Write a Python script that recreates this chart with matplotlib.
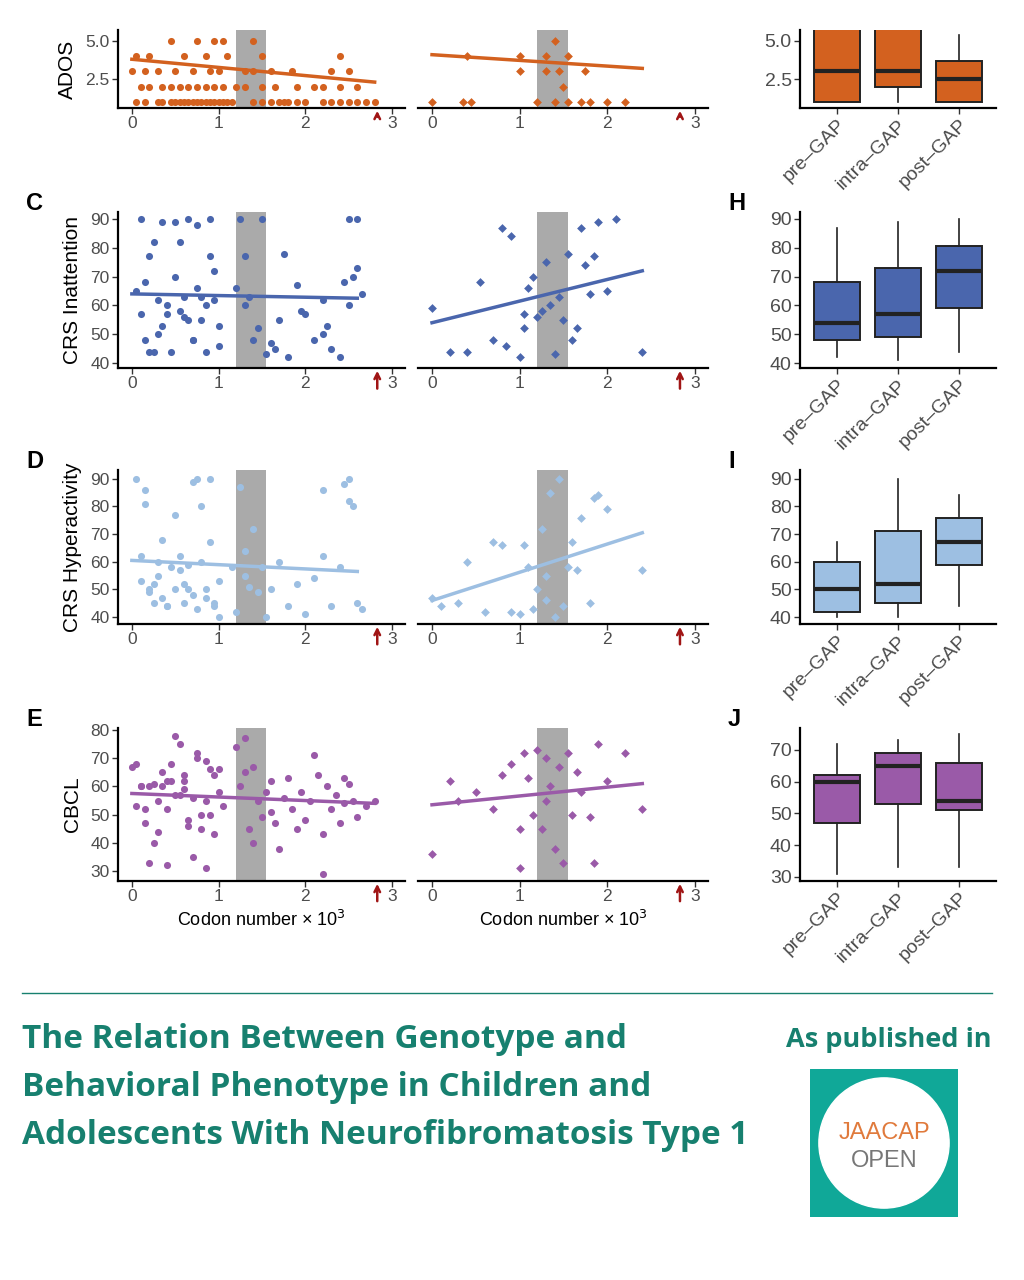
import numpy as np
import matplotlib
matplotlib.use("Agg")
import matplotlib.pyplot as plt
from matplotlib.patches import Rectangle, Circle

W, H = 1024, 1280

# ---- data ----
groups = ["pre\u2013GAP", "intra\u2013GAP", "post\u2013GAP"]

ados_left_x = [0.05, 0.15, 0.3, 0.35, 0.45, 0.5, 0.55, 0.6, 0.65, 0.7, 0.75, 0.8, 0.85, 0.9, 0.95, 1.0, 1.05,
               1.1, 1.15, 1.4, 1.5, 1.6, 1.7, 1.75, 1.8, 1.9, 2.0, 2.2, 2.3, 2.4, 2.5, 2.6, 2.7, 2.8,
               0.1, 0.2, 0.35, 0.45, 0.55, 0.65, 0.75, 0.85, 0.95, 1.05, 1.2, 1.3, 1.5, 1.65, 1.9, 2.1, 2.2,
               2.4, 2.6, 0.0, 0.15, 0.3, 0.5, 0.7, 0.9, 1.0, 1.3, 1.4, 1.6, 1.85, 2.3, 2.5,
               0.05, 0.2, 0.6, 0.85, 1.1, 1.5, 2.4, 0.45, 0.75, 0.95, 1.05, 1.4]
ados_left_y = [1] * 34 + [2] * 19 + [3] * 13 + [4] * 7 + [5] * 5
ados_mid_x = [0.0, 0.35, 0.45, 1.2, 1.4, 1.55, 1.7, 1.8, 2.0, 2.2, 1.5, 1.0, 1.3, 1.45, 1.75, 0.4, 1.0, 1.3,
              1.55, 1.4]
ados_mid_y = [1] * 10 + [2] + [3] * 4 + [4] * 4 + [5]

crs_in_left_x = [0.05, 0.1, 0.15, 0.2, 0.25, 0.3, 0.35, 0.4, 0.45, 0.5, 0.55, 0.6, 0.65, 0.7, 0.75, 0.8, 0.85,
                 0.9, 0.95, 1.0, 0.1, 0.2, 0.3, 0.4, 0.5, 0.6, 0.7, 0.8, 0.9, 1.0, 0.15, 0.35, 0.55, 0.75,
                 0.95, 1.25, 1.3, 1.35, 1.4, 1.45, 1.5, 1.2, 1.3, 1.55, 1.65, 1.7, 1.75, 1.8, 1.9, 2.0, 2.1,
                 2.2, 2.3, 2.4, 2.5, 2.55, 2.6, 2.65, 2.5, 2.6, 2.2, 1.6, 1.95, 2.25, 2.45, 0.25, 0.65, 0.85]
crs_in_left_y = [65, 90, 48, 77, 44, 62, 89, 57, 44, 89, 58, 63, 90, 48, 88, 55, 44, 90, 62, 53, 57, 44, 50,
                 60, 70, 56, 48, 63, 77, 46, 68, 53, 82, 66, 72, 90, 77, 63, 48, 52, 90, 66, 60, 43, 45, 55,
                 78, 42, 67, 57, 48, 62, 45, 42, 60, 70, 73, 64, 90, 90, 50, 47, 58, 53, 68, 82, 55, 60]
crs_in_mid_x = [0.0, 0.2, 0.4, 0.55, 0.7, 0.8, 0.9, 1.0, 1.05, 1.1, 1.2, 1.25, 1.3, 1.35, 1.4, 1.45, 1.5, 1.55,
                1.6, 1.65, 1.7, 1.75, 1.8, 1.85, 1.9, 2.0, 2.1, 2.4, 1.15, 1.05, 0.85]
crs_in_mid_y = [59, 44, 44, 68, 48, 87, 84, 42, 52, 66, 56, 58, 75, 60, 43, 63, 55, 78, 48, 52, 87, 74, 64,
                77, 89, 65, 90, 44, 70, 57, 46]

crs_hy_left_x = [0.05, 0.1, 0.15, 0.2, 0.25, 0.3, 0.35, 0.4, 0.45, 0.5, 0.55, 0.6, 0.65, 0.7, 0.75, 0.8, 0.85,
                 0.9, 0.95, 1.0, 0.1, 0.2, 0.3, 0.4, 0.5, 0.6, 0.7, 0.8, 0.9, 1.0, 0.15, 0.35, 0.55, 0.75,
                 0.95, 1.25, 1.3, 1.35, 1.4, 1.45, 1.5, 1.2, 1.3, 1.6, 1.7, 1.8, 1.9, 2.0, 2.1, 2.2, 2.3,
                 2.4, 2.5, 2.55, 2.6, 2.65, 2.5, 2.2, 1.55, 2.45, 0.25, 0.65, 0.85, 1.15]
crs_hy_left_y = [90, 53, 81, 50, 45, 60, 68, 44, 58, 50, 62, 45, 50, 89, 43, 80, 50, 90, 44, 53, 62, 49, 55,
                 44, 77, 52, 48, 60, 67, 40, 86, 47, 57, 90, 45, 87, 64, 51, 72, 49, 58, 42, 55, 50, 60, 44,
                 52, 41, 54, 86, 44, 58, 82, 80, 45, 43, 90, 62, 40, 88, 52, 59, 47, 58]
crs_hy_mid_x = [0.0, 0.1, 0.3, 0.4, 0.6, 0.7, 0.8, 0.9, 1.0, 1.05, 1.1, 1.2, 1.25, 1.3, 1.35, 1.4, 1.45, 1.5,
                1.55, 1.6, 1.65, 1.7, 1.8, 1.85, 1.9, 2.0, 2.4, 1.15, 1.3]
crs_hy_mid_y = [47, 44, 45, 60, 42, 67, 66, 42, 41, 66, 58, 50, 72, 46, 85, 40, 90, 44, 58, 67, 57, 76, 45,
                83, 84, 79, 57, 43, 55]

cbcl_left_x = [0.0, 0.05, 0.1, 0.15, 0.2, 0.25, 0.3, 0.35, 0.4, 0.45, 0.5, 0.55, 0.6, 0.65, 0.7, 0.75, 0.8,
               0.85, 0.9, 0.95, 1.0, 1.05, 0.05, 0.15, 0.25, 0.35, 0.45, 0.55, 0.65, 0.75, 0.85, 0.95, 0.1,
               0.3, 0.5, 0.7, 0.9, 0.2, 0.4, 0.6, 0.8, 1.0, 1.2, 1.25, 1.3, 1.35, 1.4, 1.45, 1.5, 1.55, 1.6,
               1.65, 1.7, 1.75, 1.8, 1.85, 1.9, 1.95, 2.0, 2.05, 2.1, 2.15, 2.2, 2.25, 2.3, 2.35, 2.4, 2.45,
               2.5, 2.55, 2.6, 2.7, 2.8, 1.3, 1.4, 1.6, 2.2, 2.45, 0.4, 0.6, 0.85]
cbcl_left_y = [67, 53, 60, 47, 33, 61, 55, 65, 32, 68, 78, 57, 62, 48, 56, 70, 50, 31, 66, 43, 58, 53, 68,
               52, 40, 60, 62, 75, 46, 72, 55, 64, 60, 44, 57, 35, 50, 60, 52, 64, 45, 66, 74, 60, 77, 45,
               67, 55, 49, 58, 62, 47, 38, 56, 63, 52, 45, 58, 48, 55, 71, 64, 43, 60, 52, 57, 47, 63, 61,
               55, 49, 53, 55, 65, 40, 51, 29, 54, 62, 59, 69]
cbcl_mid_x = [0.0, 0.2, 0.3, 0.5, 0.7, 0.8, 0.9, 1.0, 1.05, 1.1, 1.15, 1.2, 1.25, 1.3, 1.35, 1.4, 1.45, 1.5,
              1.55, 1.6, 1.65, 1.7, 1.8, 1.85, 1.9, 2.0, 2.2, 2.4, 1.0, 1.3]
cbcl_mid_y = [36, 62, 55, 58, 52, 64, 68, 31, 72, 63, 50, 73, 45, 70, 60, 38, 67, 33, 72, 50, 65, 58, 49,
              33, 75, 62, 72, 52, 45, 55]

# regression lines: (x0, x1, y0, y1)
fit_left = {"ados": (0, 2.8, 3.8, 2.3), "in": (0, 2.6, 64, 62.5), "hy": (0, 2.6, 60.5, 56.5),
            "cbcl": (0, 2.8, 57.5, 54)}
fit_mid = {"ados": (0, 2.4, 4.1, 3.2), "in": (0, 2.4, 54, 72), "hy": (0, 2.4, 46, 70.5),
           "cbcl": (0, 2.4, 53.5, 61)}

# box stats: (whislo, q1, med, q3, whishi)
box_ados = [(1, 1, 3, 6, 6), (1, 2, 3, 6, 6), (1, 1, 2.5, 3.7, 5.4)]
box_in = [(42, 48, 54, 68, 87), (41, 49, 57, 73, 89), (44, 59, 72, 80.5, 90)]
box_hy = [(40, 42, 50, 60, 67), (40, 45, 52, 71, 90), (44, 59, 67, 76, 84)]
box_cbcl = [(31, 47, 60, 62, 72), (33, 53, 65, 69, 73), (33, 51, 54, 66, 75)]

GAP = (1.2, 1.55)
ARROW_X = 2.83

rows = [
    dict(key="ados", label="ADOS", color="#d3611f", top=30, bot=108, ylim=(0.6, 5.72), yt=[2.5, 5.0],
         ytl=["2.5", "5.0"], box_ylim=(0.6, 5.72), box_yt=[2.5, 5.0], box_ytl=["2.5", "5.0"],
         lx=ados_left_x, ly=ados_left_y, mx=ados_mid_x, my=ados_mid_y, box=box_ados, letters=(None, None)),
    dict(key="in", label="CRS Inattention", color="#4a66ad", top=212, bot=368, ylim=(38.3, 92.4),
         yt=[40, 50, 60, 70, 80, 90], box_ylim=(38.3, 92.4), box_yt=[40, 50, 60, 70, 80, 90],
         lx=crs_in_left_x, ly=crs_in_left_y, mx=crs_in_mid_x, my=crs_in_mid_y, box=box_in, letters=("C", "H")),
    dict(key="hy", label="CRS Hyperactivity", color="#9dbfe2", top=470, bot=624, ylim=(37.5, 93.2),
         yt=[40, 50, 60, 70, 80, 90], box_ylim=(37.5, 93.2), box_yt=[40, 50, 60, 70, 80, 90],
         lx=crs_hy_left_x, ly=crs_hy_left_y, mx=crs_hy_mid_x, my=crs_hy_mid_y, box=box_hy, letters=("D", "I")),
    dict(key="cbcl", label="CBCL", color="#9a5aa8", top=728, bot=881, ylim=(26.5, 80.7),
         yt=[30, 40, 50, 60, 70, 80], box_ylim=(28.7, 76.9), box_yt=[30, 40, 50, 60, 70],
         lx=cbcl_left_x, ly=cbcl_left_y, mx=cbcl_mid_x, my=cbcl_mid_y, box=box_cbcl, letters=("E", "J")),
]

fig = plt.figure(figsize=(W / 100, H / 100), dpi=100)
plt.rcParams['font.family'] = ['Liberation Sans', 'DejaVu Sans']


def px_axes(x0, x1, top, bot):
    return fig.add_axes([x0 / W, 1 - bot / H, (x1 - x0) / W, (bot - top) / H])


def style(ax, size=12.5):
    for s in ["top", "right"]:
        ax.spines[s].set_visible(False)
    for s in ["left", "bottom"]:
        ax.spines[s].set_linewidth(1.6)
    ax.tick_params(labelsize=size, colors="#333333", length=4, width=1, pad=2)
    ax.tick_params(axis="both", labelcolor="#4d4d4d")


for r in rows:
    for (x0, x1, xs, ys, fit, marker, ms) in [(118, 405, r["lx"], r["ly"], fit_left[r["key"]], "o", 26),
                                               (418, 708, r["mx"], r["my"], fit_mid[r["key"]], "D", 20)]:
        ax = px_axes(x0, x1, r["top"], r["bot"])
        style(ax)
        ax.axvspan(*GAP, color="#aaaaaa", zorder=1, lw=0)
        ax.scatter(xs, ys, s=ms, marker=marker, color=r["color"], zorder=2, lw=0)
        ax.plot(fit[:2], fit[2:], color=r["color"], lw=2.5, zorder=3)
        ax.set_xlim(-0.16, 3.15)
        ax.set_ylim(*r["ylim"])
        ax.set_xticks([0, 1, 2, 3])
        ax.set_yticks(r["yt"])
        if "ytl" in r:
            ax.set_yticklabels(r["ytl"])
        if x0 == 118:
            ax.set_ylabel(r["label"], fontsize=15, labelpad=6)
        else:
            ax.set_yticks([])
            ax.spines["left"].set_visible(False)
        ax.annotate("", xy=(ARROW_X, 0.0), xytext=(ARROW_X, -0.15), xycoords=("data", "axes fraction"),
                    arrowprops=dict(arrowstyle="->", color="#a01515", lw=1.8))
        if r["key"] == "cbcl":
            ax.set_xlabel("Codon number \u00d7 10$^3$", fontsize=13, labelpad=4)

    bx = px_axes(800, 996, r["top"], r["bot"])
    style(bx, 14)
    stats = [dict(whislo=b[0], q1=b[1], med=b[2], q3=b[3], whishi=b[4], fliers=[]) for b in r["box"]]
    bx.bxp(stats, positions=[1, 2, 3], widths=0.75, patch_artist=True, showfliers=False, showcaps=False,
           boxprops=dict(facecolor=r["color"], edgecolor="#222222", lw=1.4),
           medianprops=dict(color="#222222", lw=3), whiskerprops=dict(color="#222222", lw=1.2))
    bx.set_xlim(0.4, 3.6)
    bx.set_ylim(*r["box_ylim"])
    bx.set_yticks(r["box_yt"])
    if "box_ytl" in r:
        bx.set_yticklabels(r["box_ytl"])
    bx.set_xticks([1, 2, 3])
    bx.set_xticklabels(groups, rotation=45, ha="right", rotation_mode="anchor", fontsize=14)

    la, lb = r["letters"]
    if la:
        fig.text(26 / W, 1 - (r["top"] - 8) / H, la, fontsize=17, fontweight="bold", va="center")
        fig.text(728 / W, 1 - (r["top"] - 8) / H, lb, fontsize=17, fontweight="bold", va="center")

# footer
teal = "#17806f"
fig.add_artist(plt.Line2D([22 / W, 992 / W], [1 - 993 / H] * 2, color=teal, lw=1))
title_lines = ["The Relation Between Genotype and", "Behavioral Phenotype in Children and",
               "Adolescents With Neurofibromatosis Type 1"]
for i, t in enumerate(title_lines):
    fig.text(22 / W, 1 - (1040 + i * 47.5) / H, t, fontsize=24, fontweight="bold", color=teal,
             family="Open Sans", va="center")
fig.text(992 / W, 1 - 1040 / H, "As published in", fontsize=19.5, fontweight="bold", color=teal,
         family="Open Sans", va="center", ha="right")

lg = fig.add_axes([810 / W, 1 - 1217 / H, 148 / W, 148 / H])
lg.set_xlim(0, 1)
lg.set_ylim(0, 1)
lg.axis("off")
lg.add_patch(Rectangle((0, 0), 1, 1, color="#10a898"))
lg.add_patch(Circle((0.5, 0.5), 0.44, color="white"))
lg.text(0.5, 0.57, "JAACAP", ha="center", va="center", fontsize=17, color="#e07a3c")
lg.text(0.5, 0.38, "OPEN", ha="center", va="center", fontsize=17, color="#777777")

fig.savefig("out.png", dpi=100)
